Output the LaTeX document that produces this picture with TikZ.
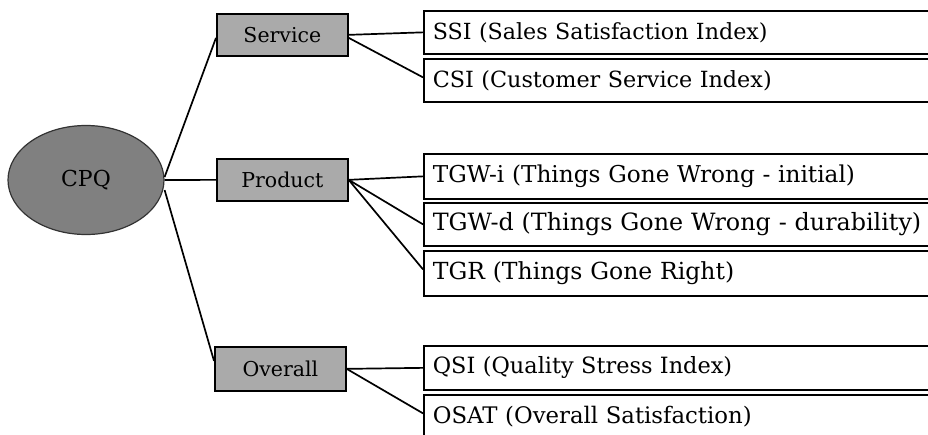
\documentclass[tikz,border=0pt]{standalone}
\usepackage{fontspec}
\setmainfont{DejaVu Serif}
\usetikzlibrary{shapes.geometric}
\definecolor{boxgray}{RGB}{170,170,170}
\definecolor{ellgray}{RGB}{128,128,128}
\newcommand{\fs}[1]{\fontsize{#1}{#1}\selectfont}
\begin{document}
\begin{tikzpicture}[x=1pt,y=-1pt,
  every node/.style={font=\fs{20.5}},
  mid/.style={draw=black,line width=1.7pt,fill=boxgray,minimum width=131pt,minimum height=42pt,inner sep=0pt,anchor=north west},
  leaf/.style={draw=black,line width=1.7pt,fill=white,minimum height=43pt,text width=502pt,align=left,inner xsep=9pt,inner ysep=0pt,anchor=north west},
  link/.style={line width=1.7pt}]
\useasboundingbox (0,0) rectangle (928,434);
\clip (0,0) rectangle (928,434);
\node[ellipse,draw=black!80,line width=1.2pt,fill=ellgray,minimum width=156pt,minimum height=109pt,inner sep=0pt,font=\fs{22}] (cpq) at (86,180) {CPQ};
\node[mid] (svc) at (216,13) {Service};
\node[mid] (prod) at (216,158) {Product};
\node[mid,minimum height=44pt] (ov) at (214,346) {Overall};
\node[leaf,font=\fs{22.2}] (ssi) at (423,10) {SSI (Sales Satisfaction Index)};
\node[leaf,font=\fs{22.3}] (csi) at (423,58) {CSI (Customer Service Index)};
\node[leaf,minimum height=45pt,font=\fs{23.2}] (tgwi) at (423,153) {TGW-i (Things Gone Wrong - initial)};
\node[leaf,font=\fs{23.8}] (tgwd) at (423,202) {TGW-d (Things Gone Wrong - durability)};
\node[leaf,minimum height=45pt,font=\fs{23.5}] (tgr) at (423,250) {TGR (Things Gone Right)};
\node[leaf,minimum height=44pt,font=\fs{22.4}] (qsi) at (423,345) {QSI (Quality Stress Index)};
\node[leaf,font=\fs{22.8}] (osat) at (423,394) {OSAT (Overall Satisfaction)};
\draw[link] ([yshift=3pt]cpq.east) -- ([yshift=-3pt]svc.west);
\draw[link] (cpq.east) -- (prod.west);
\draw[link] ([yshift=-10pt]cpq.east) -- ([yshift=8pt]ov.west);
\draw[link] (svc.east) -- (ssi.west);
\draw[link] ([yshift=-3pt]svc.east) -- ([yshift=3pt]csi.west);
\draw[link] (prod.east) -- (tgwi.west);
\draw[link] (prod.east) -- (tgwd.west);
\draw[link] (prod.east) -- ([yshift=4pt]tgr.west);
\draw[link] (ov.east) -- (qsi.west);
\draw[link] (ov.east) -- ([yshift=3pt]osat.west);
\end{tikzpicture}
\end{document}
